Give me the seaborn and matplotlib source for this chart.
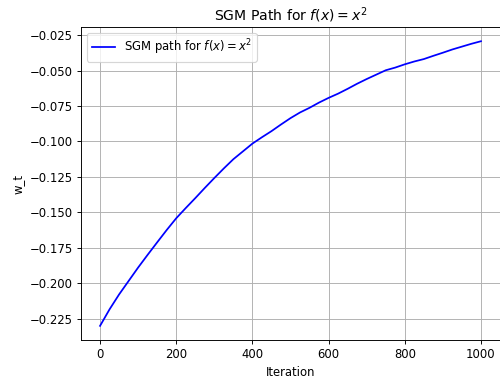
import matplotlib
matplotlib.use("Agg")
import matplotlib.pyplot as plt
import pandas as pd
import seaborn as sns

# valores (a cada 25 iteracoes)
iteracoes = list(range(0, 1001, 25))
w_t = [-0.2302, -0.2185, -0.2080, -0.1985, -0.1890, -0.1800, -0.1712,
       -0.1625, -0.1542, -0.1470, -0.1400, -0.1328, -0.1258, -0.1190,
       -0.1125, -0.1070, -0.1015, -0.0970, -0.0927, -0.0880, -0.0835,
       -0.0795, -0.0762, -0.0725, -0.0692, -0.0662, -0.0628, -0.0592,
       -0.0559, -0.0528, -0.0497, -0.0478, -0.0455, -0.0435, -0.0418,
       -0.0395, -0.0373, -0.0350, -0.0330, -0.0310, -0.0292]

df = pd.DataFrame({"Iteration": iteracoes, "w_t": w_t})

dpi = 84
fig = plt.figure(figsize=(500 / dpi, 383 / dpi), dpi=dpi)
ax = fig.add_subplot(111)
sns.lineplot(data=df, x="Iteration", y="w_t", color="blue", linewidth=1.5,
             label=r"SGM path for $f(x) = x^2$", ax=ax)
ax.set_title(r"SGM Path for $f(x) = x^2$", fontsize=12)
ax.set_xlabel("Iteration")
ax.set_ylabel("w_t")
ax.grid(True)
ax.legend(loc="upper left")
fig.subplots_adjust(left=0.162, right=1.0, top=0.9295, bottom=0.112)
fig.savefig("out.png", dpi=dpi)
